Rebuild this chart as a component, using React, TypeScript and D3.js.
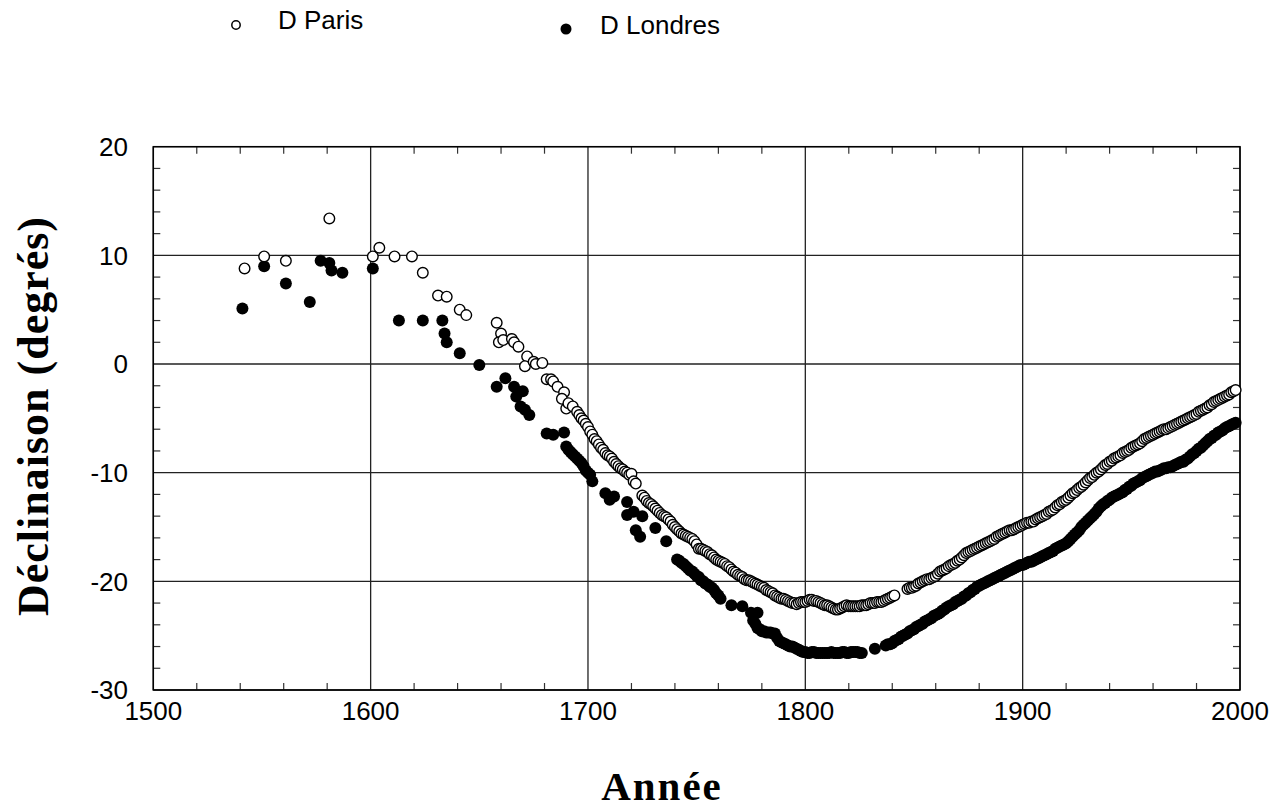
import React from 'react';
import * as d3 from 'd3';

// Paris (cercles ouverts) : relevés isolés avant 1700
const parisEarly: [number, number][] = [
  [1542, 8.8], [1551, 9.9], [1561, 9.5], [1581, 13.4], [1601, 9.9], [1604, 10.7],
  [1611, 9.9], [1619, 9.9], [1624, 8.4], [1631, 6.3], [1635, 6.2], [1641, 5.0],
  [1644, 4.5], [1658, 3.8], [1660, 2.8], [1659, 2.0], [1661, 2.2], [1665, 2.3],
  [1666, 2.0], [1668, 1.6], [1672, 0.7], [1671, -0.2], [1675, 0.2], [1676, 0.0],
  [1679, 0.1], [1681, -1.4], [1683, -1.4], [1684, -1.6], [1686, -2.1], [1689, -2.6],
  [1688, -3.2], [1690, -4.1], [1691, -3.6], [1693, -3.9], [1695, -4.4], [1696, -4.7],
  [1697, -5.0], [1698, -5.2], [1699, -5.5],
];
// Paris : valeurs annuelles à partir de 1700 (null = pas de mesure)
const parisAnnualStart = 1700;
const parisAnnual: (number | null)[] = [
  -5.8, -6.2, -6.5, -6.9, -7.1, -7.4, -7.7, -7.9, -8.2, -8.4,
  -8.5, -8.7, -9.0, -9.2, -9.4, -9.6, -9.7, -9.9, -10.0, -10.2,
  -10.1, -10.8, -11.0, null, null, -12.1, -12.3, -12.6, -12.8, -12.9,
  -13.1, -13.3, -13.5, -13.7, -13.9, -14.0, -14.1, -14.3, -14.5, -14.8,
  -15.0, -15.2, -15.4, -15.6, -15.7, -15.8, -15.9, -16.0, -16.1, -16.3,
  -16.6, -17.0, -17.0, -17.1, -17.2, -17.3, -17.5, -17.6, -17.8, -18.0,
  -18.1, -18.2, -18.3, -18.4, -18.6, -18.7, -18.9, -19.1, -19.2, -19.4,
  -19.5, -19.6, -19.8, -19.9, -19.9, -20.0, -20.1, -20.2, -20.3, -20.4,
  -20.5, -20.6, -20.8, -20.9, -21.0, -21.1, -21.3, -21.4, -21.5, -21.6,
  -21.6, -21.7, -21.8, -21.9, -22.0, -22.0, -22.1, -22.0, -21.9, -21.9,
  -21.9, -21.8, -21.7, -21.7, -21.8, -21.8, -21.9, -22.0, -22.1, -22.2,
  -22.2, -22.3, -22.4, -22.5, -22.6, -22.6, -22.5, -22.4, -22.3, -22.2,
  -22.3, -22.3, -22.3, -22.3, -22.3, -22.3, -22.2, -22.2, -22.2, -22.1,
  -22.0, -22.0, -22.0, -21.9, -21.9, -21.9, -21.8, -21.7, -21.6, -21.5,
  -21.4, -21.3, null, null, null, null, null, -20.7, -20.6, -20.6,
  -20.5, -20.4, -20.2, -20.1, -20.0, -19.9, -19.8, -19.8, -19.7, -19.6,
  -19.5, -19.3, -19.1, -19.0, -18.9, -18.8, -18.6, -18.5, -18.4, -18.3,
  -18.1, -18.0, -17.8, -17.6, -17.4, -17.3, -17.2, -17.1, -17.0, -16.9,
  -16.8, -16.7, -16.6, -16.5, -16.4, -16.3, -16.2, -16.1, -15.9, -15.8,
  -15.7, -15.6, -15.5, -15.4, -15.3, -15.3, -15.2, -15.1, -15.0, -14.9,
  -14.8, -14.7, -14.6, -14.6, -14.5, -14.5, -14.3, -14.2, -14.1, -14.0,
  -13.9, -13.8, -13.6, -13.5, -13.4, -13.2, -13.0, -12.9, -12.7, -12.6,
  -12.5, -12.3, -12.1, -11.9, -11.8, -11.6, -11.4, -11.3, -11.1, -10.9,
  -10.7, -10.5, -10.4, -10.2, -10.0, -9.9, -9.7, -9.5, -9.3, -9.2,
  -9.0, -8.9, -8.7, -8.6, -8.5, -8.4, -8.2, -8.1, -8.0, -7.9,
  -7.7, -7.6, -7.5, -7.4, -7.3, -7.1, -6.9, -6.8, -6.7, -6.6,
  -6.5, -6.4, -6.3, -6.2, -6.1, -6.0, -6.0, -5.9, -5.8, -5.7,
  -5.6, -5.5, -5.4, -5.3, -5.2, -5.1, -5.0, -4.9, -4.8, -4.7,
  -4.6, -4.4, -4.3, -4.2, -4.1, -4.0, -3.8, -3.7, -3.5, -3.4,
  -3.3, -3.2, -3.1, -3.0, -2.9, -2.8, -2.6, -2.5, -2.4,
];

// Londres (points pleins) : relevés isolés avant 1776
const londresEarly: [number, number][] = [
  [1541, 5.1], [1551, 9.0], [1561, 7.4], [1572, 5.7], [1577, 9.5], [1581, 9.3],
  [1582, 8.6], [1587, 8.4], [1601, 8.8], [1613, 4.0], [1624, 4.0], [1633, 4.0],
  [1634, 2.8], [1635, 2.0], [1641, 1.0], [1650, -0.1], [1658, -2.1], [1662, -1.3],
  [1666, -2.1], [1667, -3.0], [1669, -3.9], [1670, -2.5], [1671, -4.2], [1673, -4.7],
  [1681, -6.4], [1684, -6.5], [1689, -6.3], [1690, -7.6], [1691, -7.9], [1692, -8.1],
  [1693, -8.3], [1694, -8.5], [1695, -8.7], [1696, -8.9], [1697, -9.1], [1698, -9.4],
  [1699, -9.8], [1700, -10.0], [1701, -10.2], [1702, -10.8], [1708, -11.9], [1710, -12.5],
  [1712, -12.2], [1718, -12.7], [1718, -13.9], [1721, -13.6], [1725, -14.0], [1722, -15.3],
  [1724, -15.9], [1731, -15.1], [1736, -16.3], [1741, -18.0], [1742, -18.1], [1743, -18.3],
  [1744, -18.4], [1745, -18.6], [1746, -18.8], [1747, -19.0], [1748, -19.1], [1749, -19.3],
  [1750, -19.5], [1751, -19.6], [1752, -19.9], [1753, -20.0], [1754, -20.2], [1755, -20.3],
  [1756, -20.5], [1757, -20.6], [1758, -20.8], [1759, -21.1], [1760, -21.3], [1761, -21.6],
  [1766, -22.2], [1771, -22.3], [1775, -22.9], [1778, -22.9],
];
// Londres : valeurs annuelles à partir de 1776 (null = pas de mesure)
const londresAnnualStart = 1776;
const londresAnnual: (number | null)[] = [
  -23.6, -23.9, -24.3, -24.4,
  -24.6, -24.6, -24.7, -24.7, -24.7, -24.8, -24.8, -25.2, -25.5, -25.6,
  -25.7, -25.8, -25.9, -26.0, -26.0, -26.1, -26.2, -26.3, -26.4, -26.5,
  -26.5, -26.6, -26.6, -26.5, -26.5, -26.6, -26.6, -26.6, -26.6, -26.6,
  -26.6, -26.6, -26.5, -26.6, -26.6, -26.6, -26.6, -26.5, -26.5, -26.6,
  -26.6, -26.5, -26.5, -26.5, -26.5, -26.6, -26.6, null, null, null,
  null, null, -26.2, null, null, null, null, -25.9, -25.8, -25.8,
  -25.7, -25.5, -25.4, -25.3, -25.1, -25.0, -24.9, -24.8, -24.6, -24.5,
  -24.4, -24.2, -24.1, -24.0, -23.9, -23.7, -23.6, -23.5, -23.4, -23.2,
  -23.1, -23.0, -22.9, -22.7, -22.6, -22.4, -22.3, -22.2, -22.1, -21.9,
  -21.8, -21.7, -21.6, -21.4, -21.3, -21.1, -21.0, -20.8, -20.7, -20.5,
  -20.4, -20.3, -20.2, -20.1, -20.0, -19.9, -19.8, -19.7, -19.6, -19.5,
  -19.4, -19.3, -19.2, -19.1, -19.0, -18.9, -18.8, -18.7, -18.6, -18.5,
  -18.5, -18.4, -18.3, -18.2, -18.2, -18.1, -18.0, -17.9, -17.8, -17.7,
  -17.6, -17.5, -17.4, -17.3, -17.2, -17.0, -16.9, -16.8, -16.7, -16.6,
  -16.5, -16.3, -16.1, -15.9, -15.7, -15.5, -15.3, -15.0, -14.8, -14.6,
  -14.4, -14.2, -14.0, -13.8, -13.6, -13.3, -13.1, -12.9, -12.8, -12.6,
  -12.5, -12.3, -12.2, -12.1, -12.0, -11.9, -11.8, -11.6, -11.5, -11.3,
  -11.2, -11.0, -10.9, -10.8, -10.7, -10.5, -10.4, -10.3, -10.2, -10.1,
  -10.0, -9.9, -9.9, -9.8, -9.7, -9.6, -9.6, -9.5, -9.5, -9.4,
  -9.3, -9.2, -9.1, -9.0, -9.0, -8.8, -8.7, -8.5, -8.3, -8.2,
  -8.0, -7.8, -7.7, -7.5, -7.3, -7.1, -6.9, -6.8, -6.6, -6.5,
  -6.3, -6.2, -6.1, -5.9, -5.8, -5.7, -5.6, -5.5, -5.4,
];

const xTickLabels = [1500, 1600, 1700, 1800, 1900, 2000];
const yTickLabels = [20, 10, 0, -10, -20, -30];

const W = 1272;
const H = 809;
const plot = { left: 153.3, right: 1240, top: 146.7, bottom: 690 };
const sans = '"Liberation Sans", Arial, Helvetica, sans-serif';
const serif = '"Liberation Serif", "Times New Roman", serif';

function withAnnual(early: [number, number][], start: number, vals: (number | null)[]) {
  const out = early.slice();
  vals.forEach((v, i) => {
    if (v !== null) out.push([start + i, v]);
  });
  return out;
}

export default function App() {
  const x = d3.scaleLinear().domain([1500, 2000]).range([plot.left, plot.right]);
  const y = d3.scaleLinear().domain([-30, 20]).range([plot.bottom, plot.top]);

  const paris = withAnnual(parisEarly, parisAnnualStart, parisAnnual);
  const londres = withAnnual(londresEarly, londresAnnualStart, londresAnnual);

  const xMinor = d3.range(1500, 2001, 20).filter((v) => v % 100 !== 0);
  const yMinor = d3.range(-30, 21, 2).filter((v) => v % 10 !== 0);
  const tick = 7;

  return (
    <svg width={W} height={H} style={{ position: 'absolute', left: 0, top: 0, background: '#fff' }}>
      {/* legend */}
      <circle cx={236} cy={25} r={4.2} fill="#fff" stroke="#000" strokeWidth={1.5} />
      <text x={278} y={29} fontFamily={sans} fontSize={26}>D Paris</text>
      <circle cx={566} cy={29} r={5.5} fill="#000" />
      <text x={600} y={34} fontFamily={sans} fontSize={26}>D Londres</text>

      {/* grid */}
      {xTickLabels.map((v) => (
        <line key={'gx' + v} x1={x(v)} x2={x(v)} y1={plot.top} y2={plot.bottom} stroke="#222" strokeWidth={1.3} />
      ))}
      {yTickLabels.map((v) => (
        <line key={'gy' + v} x1={plot.left} x2={plot.right} y1={y(v)} y2={y(v)} stroke="#222" strokeWidth={1.3} />
      ))}

      {/* minor ticks, inside on all sides */}
      {xMinor.map((v) => (
        <g key={'tx' + v} stroke="#333" strokeWidth={1.2}>
          <line x1={x(v)} x2={x(v)} y1={plot.bottom} y2={plot.bottom - tick} />
          <line x1={x(v)} x2={x(v)} y1={plot.top} y2={plot.top + tick} />
        </g>
      ))}
      {yMinor.map((v) => (
        <g key={'ty' + v} stroke="#333" strokeWidth={1.2}>
          <line x1={plot.left} x2={plot.left + tick} y1={y(v)} y2={y(v)} />
          <line x1={plot.right} x2={plot.right - tick} y1={y(v)} y2={y(v)} />
        </g>
      ))}

      <rect x={plot.left} y={plot.top} width={plot.right - plot.left} height={plot.bottom - plot.top}
        fill="none" stroke="#000" strokeWidth={1.5} />

      {/* data */}
      {londres.map((d, i) => (
        <circle key={'l' + i} cx={x(d[0])} cy={y(d[1])} r={6} fill="#000" />
      ))}
      {paris.map((d, i) => (
        <circle key={'p' + i} cx={x(d[0])} cy={y(d[1])} r={5.3} fill="#fff" stroke="#000" strokeWidth={1.4} />
      ))}

      {/* tick labels */}
      {xTickLabels.map((v) => (
        <text key={'lx' + v} x={x(v)} y={720} textAnchor="middle" fontFamily={sans} fontSize={26}>{v}</text>
      ))}
      {yTickLabels.map((v) => (
        <text key={'ly' + v} x={128} y={y(v)} dy="0.36em" textAnchor="end" fontFamily={sans} fontSize={26}>{v}</text>
      ))}

      {/* axis titles */}
      <text transform="translate(48,416) rotate(-90)" textAnchor="middle" fontFamily={serif}
        fontWeight="bold" fontSize={44} letterSpacing={1}>Déclinaison (degrés)</text>
      <text x={662} y={800} textAnchor="middle" fontFamily={serif} fontWeight="bold" fontSize={41}
        letterSpacing={2}>Année</text>
    </svg>
  );
}
